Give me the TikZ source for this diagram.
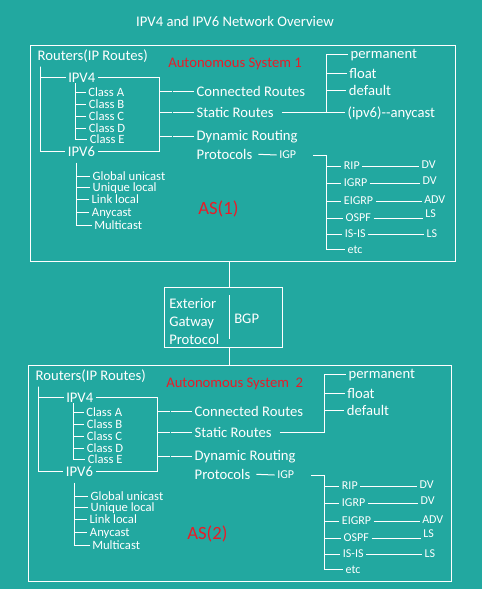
\documentclass[tikz,border=0pt]{standalone}
\usepackage{fontspec}
\setmainfont{Carlito}
\definecolor{bg}{RGB}{34,168,160}
\definecolor{asred}{RGB}{232,28,40}
\tikzset{
  ln/.style={draw=white, line width=0.75pt},
  t/.style={anchor=west, text=white, inner sep=0pt, outer sep=2pt, text height=7.1pt, text depth=0pt, font=\fontsize{11}{13}\selectfont},
  ts/.style={t, text height=6.1pt, font=\fontsize{9.5}{11}\selectfont},
  tx/.style={t, text height=5.8pt, font=\fontsize{9}{11}\selectfont},
  asr/.style={anchor=west, text=asred, inner sep=0pt, outer sep=0pt, text height=7.1pt, text depth=0pt, font=\fontsize{11}{13}\selectfont},
  asbig/.style={asr, text height=9.1pt, font=\fontsize{14}{16}\selectfont},
  box/.style={draw=white, line width=0.75pt, inner sep=0pt, outer sep=0pt}
}
\newcommand\rsBlock[1]{%
  \node[t] (rt) at (35,55.6) {Routers(IP Routes)};
  \node[asr] (asname) at (168.3,62.7) {#1};
  \coordinate (rtbar) at (40.7,66.7);
  \node[t] (v4) at (65.6,77.3) {IPV4};
  \node[t] (v6) at (65.3,151.7) {IPV6};
  \draw[ln] (v4.west) -| (rtbar) |- (v6.west);
  \coordinate (v4r) at (159.3,77.3);
  \draw[ln] (v4.east) -- (v4r) |- (v6.east);
  % classes
  \coordinate (cbar) at (75.7,83.3);
  \node[ts] (ca) at (85.6,92.3) {Class A};
  \node[ts] (cb) at (86.3,104.6) {Class B};
  \node[ts] (cc) at (86.3,116.6) {Class C};
  \node[ts] (cd) at (86.3,128.3) {Class D};
  \node[ts] (ce) at (87.3,139.6) {Class E};
  \draw[ln] (cbar) |- (ce.west);
  \foreach \n in {ca,cb,cc,cd} \draw[ln] (cbar |- \n.west) -- (\n.west);
  % route kinds
  \node[t] (conn) at (194,91.7) {Connected Routes};
  \node[t] (stat) at (194,112.7) {Static Routes};
  \node[t] (dyn) at (194,136) {Dynamic Routing};
  \node[t] (prot) at (194,154.3) {Protocols};
  \foreach \n in {conn,stat,dyn} \draw[ln] (v4r |- \n.west) -- ++(12.4,0) ++(1.6,0) -- (\n.west);
  % ipv6 addresses
  \coordinate (abar) at (76.7,162.7);
  \node[ts] (gu) at (90,176) {Global unicast};
  \node[ts] (ul) at (90,187.5) {Unique local};
  \node[ts] (ll) at (89,199.5) {Link local};
  \node[ts] (ac) at (89.3,212.3) {Anycast};
  \node[ts] (mc) at (91.6,225) {Multicast};
  \draw[ln] (abar) |- (mc.west);
  \foreach \n in {gu,ul,ll,ac} \draw[ln] (abar |- \n.west) -- (\n.west);
  % static routes
  \coordinate (sbar) at (326.7,54);
  \node[t] (perm) at (348,54) {permanent};
  \node[t] (flt) at (346.6,73.3) {float};
  \node[t] (dflt) at (346.3,90.7) {default};
  \draw[ln] ([xshift=4.2pt]stat.east) -| (sbar) -- (perm.west);
  \foreach \n in {flt,dflt} \draw[ln] (sbar |- \n.west) -- (\n.west);
  % dynamic routing
  \node[tx] (igp) at (276.6,155) {IGP};
  \draw[ln] ([xshift=2.5pt]prot.east) -- (igp.west);
  \coordinate (ibar) at (326.7,249.3);
  \node[tx] (etc) at (345,249.3) {etc};
  \draw[ln] ([xshift=11pt]igp.east) -| (ibar) -- (etc.west);
  \node[tx] (rip) at (341.3,166) {RIP};
  \node[tx] (igrp) at (341.3,183) {IGRP};
  \node[tx] (eigrp) at (341.3,201) {EIGRP};
  \node[tx] (ospf) at (343,218) {OSPF};
  \node[tx] (isis) at (342.3,234) {IS-IS};
  \node[tx] (dv1) at (419,164.3) {DV};
  \node[tx] (dv2) at (420,180.7) {DV};
  \node[tx] (adv) at (421.6,200) {ADV};
  \node[tx] (ls1) at (422.6,213.3) {LS};
  \node[tx] (ls2) at (424,233.3) {LS};
  \foreach \n in {rip,igrp,eigrp,ospf,isis} \draw[ln] (ibar |- \n.west) -- (\n.west);
  \draw[ln] (rip.east) -- (rip.east -| dv1.west);
  \draw[ln] (igrp.east) -- (igrp.east -| dv2.west);
  \draw[ln] (eigrp.east) -- (eigrp.east -| adv.west);
  \draw[ln] (ospf.east) -- (ospf.east -| ls1.west);
  \draw[ln] (isis.east) -- (isis.east -| ls2.west);
}
\begin{document}
\begin{tikzpicture}[x=0.75pt, y=-0.75pt]
  \fill[bg] (0,0) rectangle (482,589);
  \useasboundingbox (0,0) rectangle (482,589);
  \node[text=white, inner sep=0pt, font=\fontsize{11}{13}\selectfont] (title) at (235,21.7) {IPV4 and IPV6 Network Overview};
  % autonomous system boxes
  \node[box, minimum width=318.75pt, minimum height=162pt] (as1) at (242.5,153) {};
  \node[box, minimum width=317.55pt, minimum height=162pt] (as2) at (240,473) {};
  % box 1 content
  \rsBlock{Autonomous System 1}
  \node[t] (anyc) at (345,112.7) {(ipv6)-{}-anycast};
  \draw[ln] (stat.east -| sbar) -- (anyc.west);
  \node[asbig] (asl1) at (198.3,208.3) {AS(1)};
  % box 2 content
  \begin{scope}[shift={(-2,320)}, name prefix=b-]
    \rsBlock{Autonomous System~~2}
  \end{scope}
  \node[asbig] (asl2) at (187.3,533.3) {AS(2)};
  % exterior gateway protocol
  \node[box, minimum width=88.5pt, minimum height=45pt] (egp) at (223,317) {};
  \coordinate (divtop) at (229,295);
  \coordinate (divbot) at (229,339);
  \draw[ln] (divtop) -- (divbot);
  \node[t] (ext) at (166.6,303.3) {Exterior};
  \node[t] (gat) at (166.6,321.7) {Gatway};
  \node[t] (pro) at (166.6,339.3) {Protocol};
  \node[t] (bgp) at (231.6,318.3) {BGP};
  \draw[ln] (as1.south -| divtop) -- (egp.north -| divtop);
  \draw[ln] (egp.south -| divtop) -- (as2.north -| divtop);
\end{tikzpicture}
\end{document}
